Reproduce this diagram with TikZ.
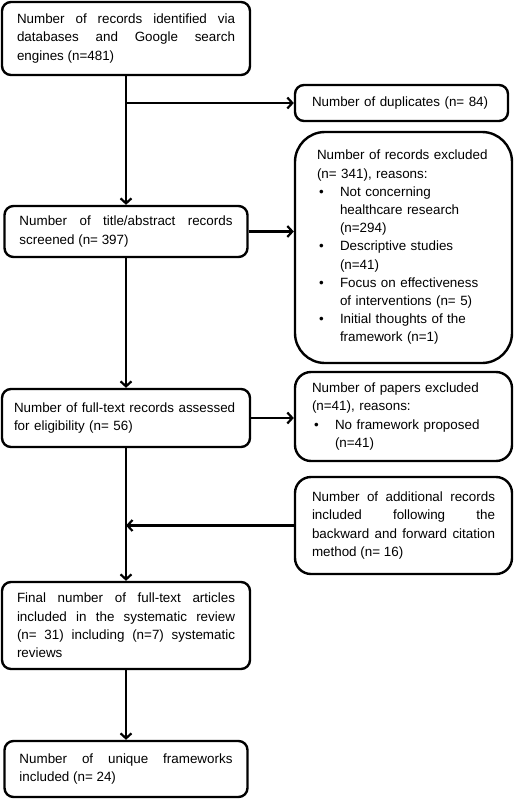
\documentclass[tikz,border=0pt]{standalone}
\usepackage{fontspec}
\setmainfont{Liberation Sans}
\usetikzlibrary{arrows.meta}
\hyphenpenalty=10000
\exhyphenpenalty=10000
\tolerance=10000
\hbadness=10000
\newcommand{\reason}[1]{\makebox[23pt][l]{\hspace{2pt}\textbullet}#1}
\newcommand{\reasonmore}[1]{\hspace*{23pt}#1}

\begin{document}
\begin{tikzpicture}[x=1pt, y=-1pt,
  flowbox/.style={draw, line width=2.4pt, rounded corners=9pt, inner xsep=15pt, inner ysep=0pt,
    align=justify, font=\fontsize{13.4}{18.2}\selectfont},
  sidebox/.style={flowbox, inner xsep=17pt, align=left, rounded corners=16pt},
  flowarrow/.style={line width=2.2pt, -{Straight Barb[length=5pt,width=11pt]}}]
  \pgfmathsetmacro{\mainX}{126};
  \pgfmathsetmacro{\sideX}{403.5};
  \useasboundingbox (0,0) rectangle (517,800);
  %% Main column
  \node[flowbox, text width=218pt, minimum height=73pt] (rec) at (\mainX,38.5)
    {Number of records identified via\linebreak databases and Google search\linebreak engines (n=481)};
  \node[flowbox, text width=213pt, minimum height=51pt] (scr) at (\mainX,231.5)
    {Number of title/abstract records\linebreak screened (n=~397)};
  \node[flowbox, text width=224pt, inner xsep=12pt, minimum height=58pt, align=left] (full) at (\mainX,418)
    {Number of full-text records assessed\\ for eligibility (n=~56)};
  \node[flowbox, text width=218pt, minimum height=87pt] (final) at (\mainX,625.5)
    {Final number of full-text articles\linebreak included in the systematic review\linebreak (n=~31) including (n=7) systematic\linebreak reviews};
  \node[flowbox, text width=213pt, minimum height=56pt] (unique) at (\mainX,769)
    {Number of unique frameworks\linebreak included (n=~24)};
  %% Side boxes
  \node[sidebox, text width=179pt, minimum height=36pt, rounded corners=9pt] (dup) at (401.5,103)
    {Number of duplicates (n=~84)};
  \node[sidebox, text width=173pt, inner xsep=22pt, minimum height=231pt, rounded corners=30pt] (excl) at (\sideX,247.5)
    {Number of records excluded\\ (n=~341), reasons:\\
     \reason{Not concerning}\\ \reasonmore{healthcare research}\\ \reasonmore{(n=294)}\\
     \reason{Descriptive studies}\\ \reasonmore{(n=41)}\\
     \reason{Focus on effectiveness}\\ \reasonmore{of interventions (n=~5)}\\
     \reason{Initial thoughts of the}\\ \reasonmore{framework (n=1)}};
  \node[sidebox, text width=183pt, minimum height=89pt] (papers) at (\sideX,416.5)
    {Number of papers excluded\\ (n=41), reasons:\\
     \reason{No framework proposed}\\ \reasonmore{(n=41)}};
  \node[sidebox, text width=183pt, minimum height=97pt, align=justify] (add) at (\sideX,525.5)
    {Number of additional records\linebreak included following the\linebreak backward and forward citation\linebreak method (n=~16)};
  %% Arrows
  \draw[flowarrow] (rec.south) -- (scr.north);
  \draw[flowarrow] (rec.south |- dup.west) -- (dup.west);
  \draw[flowarrow] (scr.east) -- (scr.east -| excl.west);
  \draw[flowarrow] (scr.south) -- (full.north);
  \draw[flowarrow] (full.east) -- (full.east -| papers.west);
  \draw[flowarrow] (full.south) -- (final.north);
  \draw[flowarrow] (add.west) -- (add.west -| full.south);
  \draw[flowarrow] (final.south) -- (unique.north);
\end{tikzpicture}
\end{document}
